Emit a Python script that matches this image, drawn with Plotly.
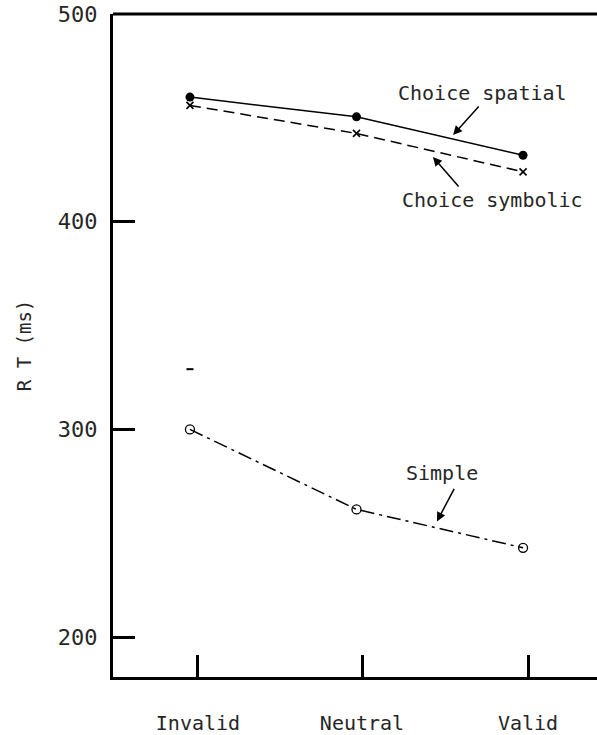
import plotly.graph_objects as go

# ---- data ----
conditions = ["Invalid", "Neutral", "Valid"]
choice_spatial = [460, 450.5, 432]
choice_symbolic = [456, 442.5, 424]
simple = [300, 261.5, 243]
stray_mark = [329]          # small isolated tick mark above the Invalid/Simple point
y_ticks = [200, 300, 400, 500]

x_pos = list(range(len(conditions)))
FONT = "DejaVu Sans Mono"
TXT = "#262626"

fig = go.Figure()

fig.add_trace(go.Scatter(
    x=x_pos, y=choice_spatial, mode="lines+markers", name="Choice spatial",
    line=dict(color="black", width=1.5),
    marker=dict(symbol="circle", size=9, color="black"),
))
fig.add_trace(go.Scatter(
    x=x_pos, y=choice_symbolic, mode="lines+markers", name="Choice symbolic",
    line=dict(color="black", width=1.5, dash="11px,6px"),
    marker=dict(symbol="x-thin", size=7, line=dict(color="black", width=1.6)),
))
fig.add_trace(go.Scatter(
    x=x_pos, y=simple, mode="lines+markers", name="Simple",
    line=dict(color="black", width=1.5, dash="14px,5px,3px,5px"),
    marker=dict(symbol="circle-open", size=9, color="black", line=dict(width=1.3)),
))
fig.add_trace(go.Scatter(
    x=[x_pos[0]], y=stray_mark, mode="markers", name="",
    marker=dict(symbol="line-ew", size=5, line=dict(color="black", width=2)),
))

# labels with arrows
ann_font = dict(family=FONT, size=20, color=TXT)
annotations = [
    dict(x=1.754, y=462.0, text="Choice spatial", showarrow=False, font=ann_font),
    dict(x=1.814, y=410.5, text="Choice symbolic", showarrow=False, font=ann_font),
    dict(x=1.514, y=279.2, text="Simple", showarrow=False, font=ann_font),
    dict(x=1.58, y=441.8, ax=27, ay=-30, text="", showarrow=True,
         arrowhead=2, arrowsize=1.2, arrowwidth=1.5, arrowcolor="black"),
    dict(x=1.459, y=431.2, ax=27, ay=31, text="", showarrow=True,
         arrowhead=2, arrowsize=1.2, arrowwidth=1.5, arrowcolor="black"),
    dict(x=1.483, y=255.7, ax=18, ay=-34, text="", showarrow=True,
         arrowhead=2, arrowsize=1.2, arrowwidth=1.5, arrowcolor="black"),
]

fig.update_layout(
    width=597, height=735,
    margin=dict(l=113, r=0, t=14, b=58),
    plot_bgcolor="white", paper_bgcolor="white",
    showlegend=False,
    annotations=annotations,
    shapes=[dict(type="line", xref="paper", yref="paper", x0=0, x1=1, y0=1, y1=1,
                 line=dict(color="black", width=3))],
)

fig.update_xaxes(
    range=[-0.462, 2.444], automargin=False,
    tickvals=[0.048, 1.033, 2.03], ticktext=conditions,
    showline=True, linewidth=3, linecolor="black",
    ticks="inside", ticklen=22, tickwidth=3, tickcolor="black",
    showgrid=False, zeroline=False,
    ticklabelstandoff=26,
    tickfont=dict(family=FONT, size=20, color=TXT),
)
fig.update_yaxes(
    range=[180.8, 500], automargin=False,
    tickvals=y_ticks, ticklabeloverflow="allow",
    showline=True, linewidth=3, linecolor="black",
    ticks="inside", ticklen=22, tickwidth=3, tickcolor="black",
    showgrid=False, zeroline=False,
    ticklabelstandoff=8,
    tickfont=dict(family=FONT, size=22, color=TXT),
    title=dict(text="R T (ms)", font=dict(family=FONT, size=19, color=TXT), standoff=22),
)

# remove the default 8px page margin so the figure fills the window exactly
fig.write_html("out.html", config={"displayModeBar": False},
               post_script="document.body.style.margin='0';")
